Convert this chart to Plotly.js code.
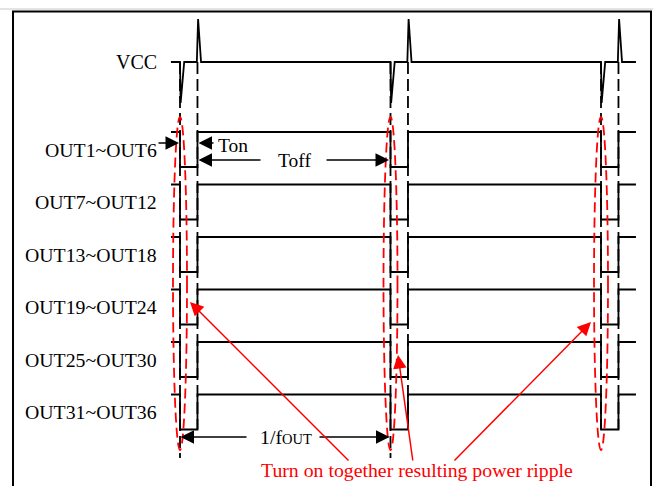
<!DOCTYPE html>
<html>
<head>
<meta charset="utf-8">
<script src="https://cdn.plot.ly/plotly-3.0.1.min.js"></script>
<style>
html,body{margin:0;padding:0;background:#fff;}
#chart{width:653px;height:486px;}
</style>
</head>
<body>
<div id="chart"></div>
<script>
// ---- data (time in units where one output period 1/fOUT = 10) ----
const fallTimes = [0, 10, 20];          // outputs turn on (pull low) together
const riseTimes = [0.83, 10.83, 20.83]; // end of Ton
const tStart = -0.43;
const tEnd = 21.66;
const rowLabels = ['OUT1~OUT6', 'OUT7~OUT12', 'OUT13~OUT18', 'OUT19~OUT24', 'OUT25~OUT30', 'OUT31~OUT36'];
const rowHigh = [1, -0.5, -2, -3.5, -5, -6.5];
const rowLow  = [0, -1.5, -3, -4.5, -6, -7.5];
const vccLabel = 'VCC';
const vccLevel = 3;
const vccDip = 1.83;
const vccSpike = 4.23;
const noteText = 'Turn on together resulting power ripple';

// ---- axis scale helpers (layout only) ----
const PXX = 21.05, X0 = 180, PXY = 35, Y0 = 132;
const px2x = p => (p - X0) / PXX;
const px2y = p => 1 - (p - Y0) / PXY;

const FONT = 'Liberation Serif, Times New Roman, serif';
const traces = [];

// VCC waveform
{
  const x = [tStart], y = [vccLevel];
  fallTimes.forEach((tf, i) => {
    const tr = riseTimes[i];
    x.push(tf, tf + 0.03, tf + 0.2, tr - 0.03, tr + 0.03, tr + 0.17);
    y.push(vccLevel, vccDip, vccLevel, vccLevel, vccSpike, vccLevel);
  });
  x.push(tEnd); y.push(vccLevel);
  traces.push({x, y, mode: 'lines', line: {color: '#000', width: 1.8}, hoverinfo: 'skip'});
}

// output waveforms
rowLabels.forEach((lab, r) => {
  const x = [tStart], y = [rowHigh[r]];
  fallTimes.forEach((tf, i) => {
    const tr = riseTimes[i];
    x.push(tf, tf, tr, tr);
    y.push(rowHigh[r], rowLow[r], rowLow[r], rowHigh[r]);
  });
  x.push(tEnd); y.push(rowHigh[r]);
  traces.push({x, y, mode: 'lines', name: lab, line: {color: '#000', width: 1.8}, hoverinfo: 'skip'});
});

// black dashed edge markers
{
  const x = [], y = [];
  const bottomLong = px2y(458);
  const bottomRow = rowLow[rowLow.length - 1];
  fallTimes.forEach((tf, i) => {
    x.push(tf, tf, null);
    y.push(vccLevel, i < 2 ? bottomLong : bottomRow, null);
    x.push(riseTimes[i], riseTimes[i], null);
    y.push(vccLevel, bottomRow, null);
  });
  traces.push({x, y, mode: 'lines', line: {color: '#000', width: 1.8, dash: '12px,5px'}, hoverinfo: 'skip'});
}

// ---- shapes ----
const shapes = [];
fallTimes.forEach(tf => {
  shapes.push({type: 'circle', xref: 'x', yref: 'y', x0: tf - 7 / PXX, x1: tf + 7 / PXX,
    y0: px2y(450), y1: px2y(117), line: {color: '#ff0000', width: 1.8, dash: '10px,5px'}, layer: 'above'});
});
// frame
shapes.push({type: 'line', xref: 'paper', yref: 'paper', x0: 0, x1: 1, y0: 1 - 9 / 486, y1: 1 - 9 / 486, line: {color: '#c8c8c8', width: 1}});
shapes.push({type: 'line', xref: 'paper', yref: 'paper', x0: 12 / 653, x1: 652 / 653, y0: 1 - 11.5 / 486, y1: 1 - 11.5 / 486, line: {color: '#000', width: 2}});
shapes.push({type: 'line', xref: 'paper', yref: 'paper', x0: 13 / 653, x1: 13 / 653, y0: 1 - 11 / 486, y1: -0.05, line: {color: '#000', width: 2}});
shapes.push({type: 'line', xref: 'paper', yref: 'paper', x0: 651 / 653, x1: 651 / 653, y0: 1 - 11 / 486, y1: -0.05, line: {color: '#000', width: 2}});

// ---- annotations ----
const ann = [];
function arrow(tip, tail, color) {
  ann.push({x: px2x(tip[0]), y: px2y(tip[1]), ax: px2x(tail[0]), ay: px2y(tail[1]),
    xref: 'x', yref: 'y', axref: 'x', ayref: 'y', text: '', showarrow: true,
    arrowhead: 2, arrowsize: 1.8, arrowwidth: 1.5, arrowcolor: color, standoff: 0});
}
function label(text, px, py, xanchor, size, color) {
  ann.push({x: px2x(px), y: px2y(py), xref: 'x', yref: 'y', text, showarrow: false,
    xanchor, yanchor: 'middle', font: {family: FONT, size, color: color || '#000'}});
}
label(vccLabel, 159, 62, 'right', 20);
rowLabels.forEach((lab, r) => {
  const midPx = Y0 + (1 - (rowHigh[r] + rowLow[r]) / 2) * PXY;
  label(lab, 158.5, midPx, 'right', 19.8);
});
arrow([179, 143], [157, 143], '#000');
arrow([198.5, 143], [215, 143], '#000');
label('Ton', 216, 145, 'left', 19.5);
arrow([198.5, 160], [262, 160], '#000');
arrow([389, 160], [325, 160], '#000');
label('Toff', 294, 160, 'center', 19.5);
arrow([180.5, 437], [248, 437], '#000');
arrow([389.5, 437], [318, 437], '#000');
label('1/f<span style="font-size:14.5px">OUT</span>', 258, 437, 'left', 19.8);
// red callouts
arrow([190, 302], [350, 462], '#ff0000');
arrow([398, 355], [413, 462], '#ff0000');
arrow([591, 322], [453, 462], '#ff0000');
label(noteText, 416.5, 470, 'center', 19.8, '#ff0000');

const layout = {
  width: 653, height: 486,
  margin: {l: 0, r: 0, t: 0, b: 0},
  paper_bgcolor: '#fff', plot_bgcolor: '#fff',
  showlegend: false,
  xaxis: {range: [px2x(0), px2x(653)], visible: false, fixedrange: true},
  yaxis: {range: [px2y(486), px2y(0)], visible: false, fixedrange: true},
  shapes, annotations: ann
};
Plotly.newPlot('chart', traces, layout, {staticPlot: true, displayModeBar: false});
</script>
</body>
</html>
